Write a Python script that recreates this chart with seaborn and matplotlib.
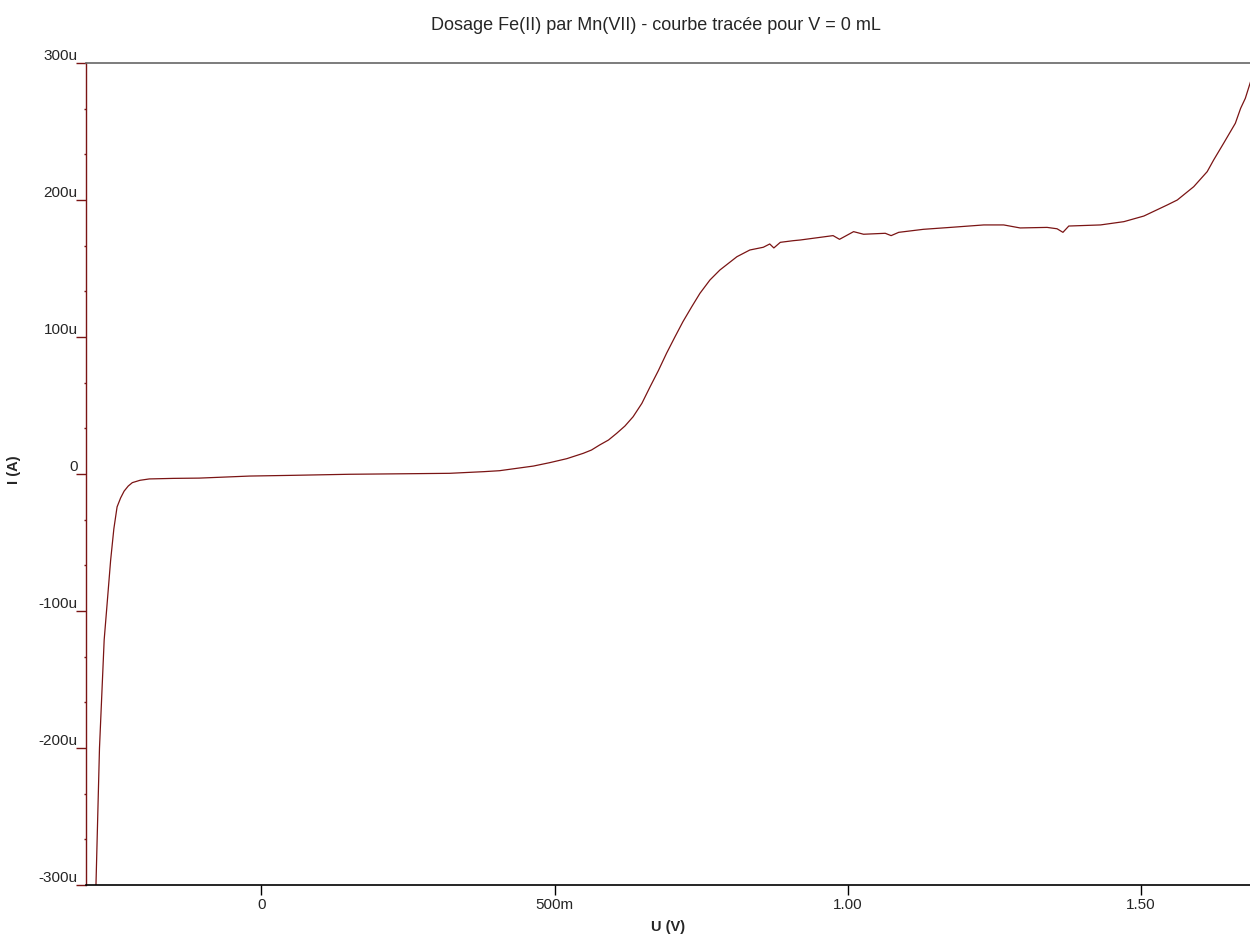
import matplotlib
matplotlib.use("Agg")
import matplotlib.pyplot as plt
import seaborn as sns
import pandas as pd
from matplotlib.ticker import FixedLocator

# ---- data ----
u_volts = [-0.283, -0.282, -0.276, -0.268, -0.264, -0.257, -0.2515, -0.246,
           -0.240, -0.234, -0.227, -0.220, -0.207, -0.191, -0.150, -0.106, -0.020,
           0.050, 0.150, 0.250, 0.321, 0.379, 0.406, 0.435, 0.464, 0.492, 0.521,
           0.549, 0.563, 0.577, 0.592, 0.606, 0.620, 0.634, 0.649, 0.663, 0.677,
           0.691, 0.705, 0.719, 0.734, 0.748, 0.765, 0.782, 0.811, 0.833,
           0.856, 0.867, 0.874, 0.885, 0.907, 0.919, 0.975, 0.986, 1.010, 1.027,
           1.064, 1.074, 1.087, 1.129, 1.175, 1.232, 1.266, 1.294, 1.340, 1.357,
           1.367, 1.377, 1.431, 1.471, 1.505, 1.545, 1.562, 1.590, 1.613, 1.624,
           1.641, 1.661, 1.670, 1.678, 1.687]
i_microamps = [-330.0, -300.0, -200.0, -121.0, -100.0, -63.0, -40.0, -24.0,
               -17.5, -12.5, -8.8, -6.3, -4.6, -3.6, -3.2, -3.0, -1.5,
               -1.0, -0.2, 0.2, 0.5, 1.7, 2.4, 4.1, 5.8, 8.3, 11.2,
               15.1, 17.5, 21.2, 24.8, 29.7, 35.0, 41.8, 51.6, 63.7, 75.4,
               88.1, 99.8, 111.2, 122.1, 131.9, 141.6, 148.9, 158.6, 163.5,
               165.5, 167.9, 165.0, 169.1, 170.3, 170.8, 174.0, 171.3, 176.9, 175.0,
               175.7, 174.0, 176.4, 178.6, 180.0, 181.8, 181.8, 179.6, 180.0, 179.0,
               176.4, 181.0, 181.8, 184.2, 188.3, 196.4, 200.0, 209.7, 220.7, 229.2,
               241.4, 256.0, 266.9, 274.2, 286.4]

x_tick_values = [0.0, 0.5, 1.0, 1.5]
x_tick_labels = ["0", "500m", "1.00", "1.50"]
y_tick_values = [-300e-6, -200e-6, -100e-6, 0.0, 100e-6, 200e-6, 300e-6]
y_tick_labels = ["-300u", "-200u", "-100u", "0", "100u", "200u", "300u"]

title_text = "Dosage Fe(II) par Mn(VII) - courbe tracée pour V = 0 mL"
x_label = "U (V)"
y_label = "I (A)"

df = pd.DataFrame({"U": u_volts, "I": [v * 1e-6 for v in i_microamps]})

sns.set_style("white")
plt.rcParams["font.family"] = ["Liberation Sans", "DejaVu Sans"]

fig = plt.figure(figsize=(12.5, 9.38), dpi=100)
ax = fig.add_axes([86 / 1250, 1 - 885 / 938, (1250 - 86) / 1250, (885 - 63) / 938])

curve = "#7a1414"
sns.lineplot(data=df, x="U", y="I", ax=ax, sort=False, estimator=None,
             color=curve, linewidth=0.9)

ax.set_xlim(-0.299, 1.686)
ax.set_ylim(-300e-6, 300e-6)

ax.set_xticks(x_tick_values)
ax.set_xticklabels(x_tick_labels)
ax.set_yticks(y_tick_values)
ax.set_yticklabels(y_tick_labels)

minor_y = []
for a, b in zip(y_tick_values[:-1], y_tick_values[1:]):
    minor_y += [a + (b - a) / 3, a + 2 * (b - a) / 3]
ax.yaxis.set_minor_locator(FixedLocator(minor_y))

ax.tick_params(axis="x", which="major", direction="out", length=7, width=1,
               color="black", labelsize=11, pad=2, bottom=True)
ax.tick_params(axis="y", which="major", direction="out", length=7, width=1,
               color=curve, labelsize=11, pad=-1, left=True)
ax.tick_params(axis="y", which="minor", direction="out", length=1.5, width=1,
               color=curve, left=True)
for lab in ax.get_yticklabels():
    lab.set_verticalalignment("bottom")

ax.spines["left"].set_color(curve)
ax.spines["left"].set_linewidth(1.0)
ax.spines["bottom"].set_color("black")
ax.spines["bottom"].set_linewidth(1.2)
ax.spines["top"].set_color("#666666")
ax.spines["top"].set_linewidth(1.2)
ax.spines["right"].set_visible(False)

ax.set_xlabel(x_label, fontsize=10.5, fontweight="bold")
ax.set_ylabel(y_label, fontsize=10.5, fontweight="bold")
ax.xaxis.set_label_coords(0.5, -0.043)
ax.yaxis.set_label_coords(-0.056, 0.505)

fig.text(656 / 1250, 1 - 25 / 938, title_text, ha="center", va="center",
         fontsize=13)

fig.savefig("out.png", dpi=100)
